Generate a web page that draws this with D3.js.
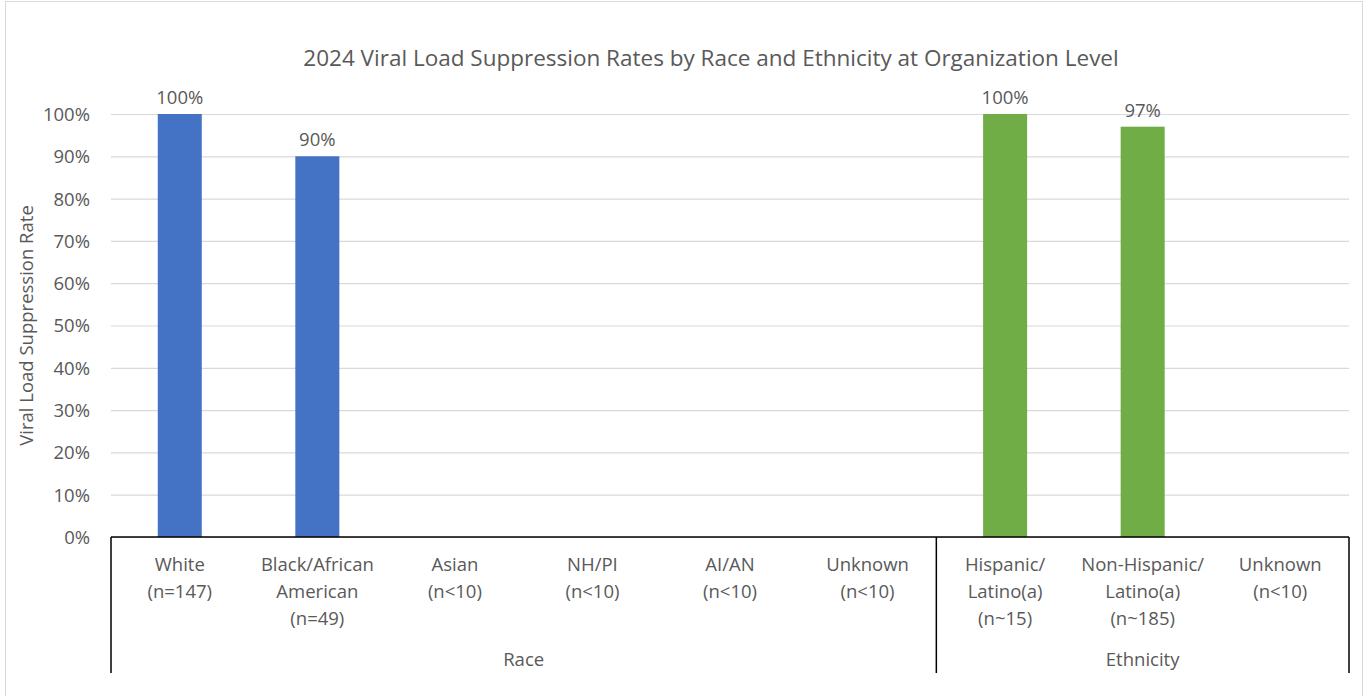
<!DOCTYPE html>
<html>
<head>
<meta charset="utf-8">
<script src="https://cdn.jsdelivr.net/npm/d3@7"></script>
<style>
  body { margin: 0; background: #fff; }
  text { font-family: "Open Sans", "Noto Sans", sans-serif; fill: #595959; }
</style>
</head>
<body>
<div id="chart"></div>
<script>
var categories = ["White\n(n=147)", "Black/African\nAmerican\n(n=49)", "Asian\n(n<10)", "NH/PI\n(n<10)", "AI/AN\n(n<10)", "Unknown\n(n<10)", "Hispanic/\nLatino(a)\n(n~15)", "Non-Hispanic/\nLatino(a)\n(n~185)", "Unknown\n(n<10)"]
var groups = ["Race", "Race", "Race", "Race", "Race", "Race", "Ethnicity", "Ethnicity", "Ethnicity"]
var values = [100, 90, null, null, null, null, 100, 97, null]
var yTicks = [0, 10, 20, 30, 40, 50, 60, 70, 80, 90, 100]

var W = 1369, H = 696
var margin = {top: 114, left: 111, right: 20, bottom: 159}
var width = 1349 - margin.left
var height = 537 - margin.top
var fs = "18.5px"

var svg = d3.select("#chart").append("svg")
  .attr("width", W)
  .attr("height", H)

// chart border
svg.append("rect")
  .attr("x", 5.5).attr("y", 1.5)
  .attr("width", 1357).attr("height", 700)
  .attr("fill", "none")
  .attr("stroke", "#d9d9d9")

svg.append("text")
  .attr("x", 711).attr("y", 66)
  .attr("text-anchor", "middle")
  .style("font-size", "22.5px")
  .text("2024 Viral Load Suppression Rates by Race and Ethnicity at Organization Level")

var g = svg.append("g")
  .attr("transform", "translate(" + margin.left + "," + margin.top + ")")

var x = d3.scaleBand()
  .domain(d3.range(categories.length))
  .range([0, width])
  .padding(0)

var y = d3.scaleLinear()
  .domain([0, 100])
  .range([height, 0])

// gridlines + y labels
var yAxis = d3.axisLeft(y)
  .tickValues(yTicks)
  .tickSize(-width)
  .tickFormat(d => d + "%")

g.append("g")
  .call(yAxis)
  .call(a => {
    a.select(".domain").remove()
    a.selectAll("line").attr("stroke", "#d9d9d9").attr("stroke-width", 1.2)
    a.selectAll("text")
      .attr("x", -21)
      .attr("dy", "0.35em")
      .style("font-size", fs)
      .attr("fill", "#595959")
  })

svg.append("text")
  .attr("transform", "translate(33," + (margin.top + height / 2) + ") rotate(-90)")
  .attr("text-anchor", "middle")
  .style("font-size", fs)
  .text("Viral Load Suppression Rate")

var colors = groups.map(d => d == "Race" ? "#4472c4" : "#70ad47")
var bw = x.bandwidth() * 0.32

g.selectAll(".bar")
  .data(values.map((v, i) => ({v: v, i: i})).filter(d => d.v != null))
  .enter().append("rect")
  .attr("class", "bar")
  .attr("x", d => x(d.i) + x.bandwidth() / 2 - bw / 2)
  .attr("width", bw)
  .attr("y", d => y(d.v))
  .attr("height", d => height - y(d.v))
  .attr("fill", d => colors[d.i])

g.selectAll(".lbl")
  .data(values.map((v, i) => ({v: v, i: i})).filter(d => d.v != null))
  .enter().append("text")
  .attr("class", "lbl")
  .attr("x", d => x(d.i) + x.bandwidth() / 2)
  .attr("y", d => y(d.v) - 10)
  .attr("text-anchor", "middle")
  .style("font-size", fs)
  .text(d => d.v + "%")

// category axis
var axisG = g.append("g").attr("transform", "translate(0," + height + ")")
var lineCol = "#000"
axisG.append("line")
  .attr("x1", 0).attr("x2", width)
  .attr("y1", 0).attr("y2", 0)
  .attr("stroke", lineCol).attr("stroke-width", 1.5)

categories.forEach(function(c, i) {
  var t = axisG.append("text")
    .attr("x", x(i) + x.bandwidth() / 2)
    .attr("y", 34)
    .attr("text-anchor", "middle")
    .style("font-size", fs)
  c.split("\n").forEach(function(line, j) {
    t.append("tspan")
      .attr("x", x(i) + x.bandwidth() / 2)
      .attr("dy", j == 0 ? 0 : 27)
      .text(line)
  })
})

// group separators and labels
var groupNames = Array.from(new Set(groups))
var bounds = [0]
groupNames.forEach(function(gn) {
  var idx = groups.lastIndexOf(gn)
  bounds.push(x(idx) + x.bandwidth())
})
bounds.forEach(function(b) {
  axisG.append("line")
    .attr("x1", b).attr("x2", b)
    .attr("y1", 0).attr("y2", 136)
    .attr("stroke", lineCol).attr("stroke-width", 1.5)
})
groupNames.forEach(function(gn, k) {
  axisG.append("text")
    .attr("x", (bounds[k] + bounds[k + 1]) / 2)
    .attr("y", 129)
    .attr("text-anchor", "middle")
    .style("font-size", fs)
    .text(gn)
})
</script>
</body>
</html>
